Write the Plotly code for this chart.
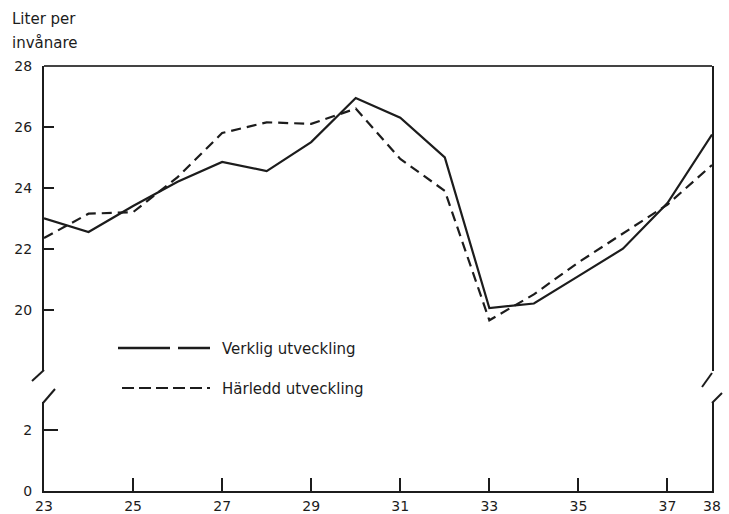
import plotly.graph_objects as go

# ---- data ----
years = list(range(23, 39))
verklig = [23.0, 22.55, 23.4, 24.2, 24.85, 24.55, 25.5, 26.95, 26.3, 25.0,
           20.05, 20.2, 21.1, 22.0, 23.5, 25.75]
harledd = [22.35, 23.15, 23.2, 24.35, 25.8, 26.15, 26.1, 26.6, 24.95, 23.9,
           19.65, 20.5, 21.55, 22.5, 23.45, 24.75]
x_ticks = [23, 25, 27, 29, 31, 33, 35, 37, 38]
x_labels = ["23", "25", "27", "29", "31", "33", "35", "37", "38"]
y_upper_ticks = [20, 22, 24, 26, 28]
y_lower_ticks = [0, 2]
names = ["Verklig utveckling", "Härledd utveckling"]

# ---- geometry (pixels) ----
W, H = 729, 514
L, R, T, B = 44, 17, 66, 23
PW, PH = W - L - R, H - T - B
PPU = 30.45  # pixels per unit on y
up_bottom_px = 371
low_top_px = 402
up_dom0 = (H - B - up_bottom_px) / PH
low_dom1 = (H - B - low_top_px) / PH
up_range = [28 - (up_bottom_px - T) / PPU, 28]
low_range = [0, (H - B - low_top_px) / PPU]


def px(xp):
    return (xp - L) / PW


def py(yp):
    return (H - B - yp) / PH


FONT = "DejaVu Sans"
INK = "#1c1c1c"

fig = go.Figure()
fig.add_trace(go.Scatter(x=years, y=verklig, mode="lines", name=names[0],
                         line=dict(color=INK, width=2.2), yaxis="y2",
                         showlegend=False))
fig.add_trace(go.Scatter(x=years, y=harledd, mode="lines", name=names[1],
                         line=dict(color=INK, width=2.2, dash="10px,6px"),
                         yaxis="y2", showlegend=False))
# empty trace so the lower (0-3) panel exists
fig.add_trace(go.Scatter(x=[], y=[], yaxis="y", showlegend=False,
                         hoverinfo="skip"))

axis_common = dict(showgrid=False, zeroline=False, showline=True,
                   linecolor=INK, linewidth=2, ticks="inside",
                   tickcolor=INK, tickwidth=2,
                   tickfont=dict(family=FONT, size=14, color=INK))

fig.update_layout(
    width=W, height=H,
    margin=dict(l=L, r=R, t=T, b=B),
    paper_bgcolor="white", plot_bgcolor="white",
    xaxis=dict(range=[23, 38], tickvals=x_ticks, ticktext=x_labels,
               ticklen=13, anchor="y", automargin=False,
               ticklabelstandoff=1, **axis_common),
    yaxis=dict(domain=[0, low_dom1], range=low_range, tickvals=y_lower_ticks,
               ticklen=14, mirror=True, anchor="x", automargin=False,
               ticklabelstandoff=7, **axis_common),
    yaxis2=dict(domain=[up_dom0, 1], range=up_range, tickvals=y_upper_ticks,
                ticklen=10, mirror=True, anchor="x", automargin=False,
                ticklabelstandoff=7, **axis_common),
)

shapes = []
# top border
shapes.append(dict(type="line", xref="paper", yref="paper", x0=0, x1=1,
                   y0=1, y1=1, line=dict(color="#444", width=2)))
# axis break marks
for (a, b, c, d) in [(44, 370, 32, 381), (43, 403, 55, 389),
                     (712, 373, 702, 387), (712, 403, 722, 393)]:
    shapes.append(dict(type="line", xref="paper", yref="paper",
                       x0=px(a), y0=py(b), x1=px(c), y1=py(d),
                       line=dict(color=INK, width=2)))
# legend keys
shapes.append(dict(type="line", xref="paper", yref="paper",
                   x0=px(118), x1=px(210), y0=py(348), y1=py(348),
                   line=dict(color=INK, width=2.5, dash="52px,8px")))
shapes.append(dict(type="line", xref="paper", yref="paper",
                   x0=px(122), x1=px(210), y0=py(388), y1=py(388),
                   line=dict(color=INK, width=2, dash="12px,5px")))
fig.update_layout(shapes=shapes)

ann = [
    dict(text=names[0], x=px(220), y=py(349)),
    dict(text=names[1], x=px(220), y=py(389)),
    dict(text="Liter per", x=px(10), y=py(19)),
    dict(text="invånare", x=px(10), y=py(43)),
]
for a in ann:
    fig.add_annotation(xref="paper", yref="paper", xanchor="left",
                       yanchor="middle", showarrow=False,
                       font=dict(family=FONT, size=15, color=INK), **a)

fig.write_html("out.html", config={"displayModeBar": False},
               post_script="document.body.style.margin='0';"
                           "document.body.style.overflow='hidden';")
